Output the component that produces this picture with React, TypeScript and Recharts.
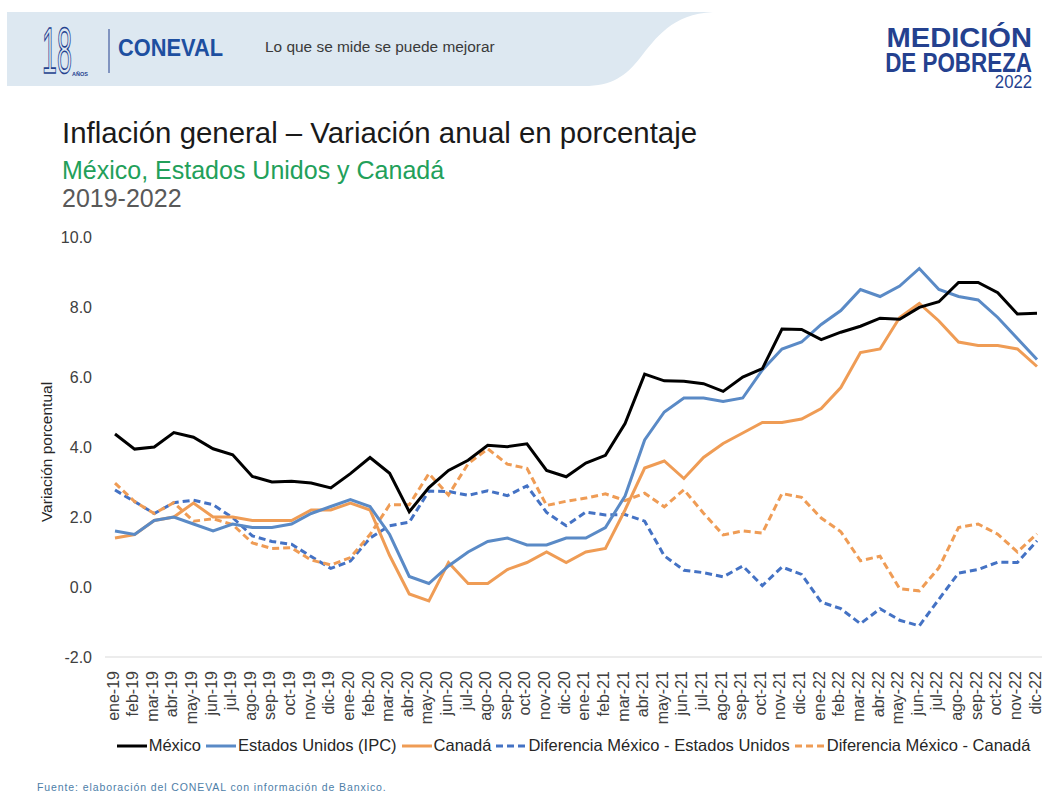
import { LineChart, Line, XAxis, YAxis } from "recharts";

// meses (eje x)
const meses = [
    "ene-19", "feb-19", "mar-19", "abr-19", "may-19", "jun-19", "jul-19", "ago-19", "sep-19", "oct-19", "nov-19", "dic-19",
    "ene-20", "feb-20", "mar-20", "abr-20", "may-20", "jun-20", "jul-20", "ago-20", "sep-20", "oct-20", "nov-20", "dic-20",
    "ene-21", "feb-21", "mar-21", "abr-21", "may-21", "jun-21", "jul-21", "ago-21", "sep-21", "oct-21", "nov-21", "dic-21",
    "ene-22", "feb-22", "mar-22", "abr-22", "may-22", "jun-22", "jul-22", "ago-22", "sep-22", "oct-22", "nov-22", "dic-22",
];

const mexico = [
    4.37, 3.94, 4.00, 4.41, 4.28, 3.95, 3.78, 3.16, 3.00, 3.02, 2.97, 2.83,
    3.24, 3.70, 3.25, 2.15, 2.84, 3.33, 3.62, 4.05, 4.01, 4.09, 3.33, 3.15,
    3.54, 3.76, 4.67, 6.08, 5.89, 5.88, 5.81, 5.59, 6.00, 6.24, 7.37, 7.36,
    7.07, 7.28, 7.45, 7.68, 7.65, 7.99, 8.15, 8.70, 8.70, 8.41, 7.80, 7.82,
];

const estadosUnidos = [
    1.6, 1.5, 1.9, 2.0, 1.8, 1.6, 1.8, 1.7, 1.7, 1.8, 2.1, 2.3,
    2.5, 2.3, 1.5, 0.3, 0.1, 0.6, 1.0, 1.3, 1.4, 1.2, 1.2, 1.4,
    1.4, 1.7, 2.6, 4.2, 5.0, 5.4, 5.4, 5.3, 5.4, 6.2, 6.8, 7.0,
    7.5, 7.9, 8.5, 8.3, 8.6, 9.1, 8.5, 8.3, 8.2, 7.7, 7.1, 6.5,
];

const canada = [
    1.4, 1.5, 1.9, 2.0, 2.4, 2.0, 2.0, 1.9, 1.9, 1.9, 2.2, 2.2,
    2.4, 2.2, 0.9, -0.2, -0.4, 0.7, 0.1, 0.1, 0.5, 0.7, 1.0, 0.7,
    1.0, 1.1, 2.2, 3.4, 3.6, 3.1, 3.7, 4.1, 4.4, 4.7, 4.7, 4.8,
    5.1, 5.7, 6.7, 6.8, 7.7, 8.1, 7.6, 7.0, 6.9, 6.9, 6.8, 6.3,
];

const difEstadosUnidos = [
    2.77, 2.44, 2.10, 2.41, 2.48, 2.35, 1.98, 1.46, 1.30, 1.22, 0.87, 0.53,
    0.74, 1.40, 1.75, 1.85, 2.74, 2.73, 2.62, 2.75, 2.61, 2.89, 2.13, 1.75,
    2.14, 2.06, 2.07, 1.88, 0.89, 0.48, 0.41, 0.29, 0.60, 0.04, 0.57, 0.36,
    -0.43, -0.62, -1.05, -0.62, -0.95, -1.11, -0.35, 0.40, 0.50, 0.71, 0.70, 1.32,
];

const difCanada = [
    2.97, 2.44, 2.10, 2.41, 1.88, 1.95, 1.78, 1.26, 1.10, 1.12, 0.77, 0.63,
    0.84, 1.50, 2.35, 2.35, 3.24, 2.63, 3.52, 3.95, 3.51, 3.39, 2.33, 2.45,
    2.54, 2.66, 2.47, 2.68, 2.29, 2.78, 2.11, 1.49, 1.60, 1.54, 2.67, 2.56,
    1.97, 1.58, 0.75, 0.88, -0.05, -0.11, 0.55, 1.70, 1.80, 1.51, 1.00, 1.52,
];

const yTicks = [-2, 0, 2, 4, 6, 8, 10];

const data = meses.map((mes, i) => ({
    mes,
    mexico: mexico[i],
    eeuu: estadosUnidos[i],
    canada: canada[i],
    difEEUU: difEstadosUnidos[i],
    difCanada: difCanada[i],
}));

type Serie = {
    key: string;
    name: string;
    color: string;
    dash?: string;
};

// orden de la leyenda
const series: Serie[] = [
    { key: "mexico", name: "México", color: "#000000" },
    { key: "eeuu", name: "Estados Unidos (IPC)", color: "#5a8ac6" },
    { key: "canada", name: "Canadá", color: "#ef9c55" },
    { key: "difEEUU", name: "Diferencia México - Estados Unidos", color: "#4472c4", dash: "7 4" },
    { key: "difCanada", name: "Diferencia México - Canadá", color: "#ef9c55", dash: "7 4" },
];

const FONT = '"Liberation Sans", Arial, sans-serif';
const navy = "#24418f";

function MesTick({ x, y, payload }: any) {
    return (
        <g transform={`translate(${x},${y})`}>
            <text
                transform="rotate(-90)"
                x={-6}
                y={-2}
                textAnchor="end"
                dominantBaseline="central"
                fontSize={16}
                fontFamily={FONT}
                fill="#404040"
            >
                {payload.value}
            </text>
        </g>
    );
}

function Header() {
    return (
        <svg width={1042} height={809} style={{ position: "absolute", left: 0, top: 0 }}>
            <path
                d="M7,12 L713,12 C672,14 656,38 640,58 C626,76 612,86 584,86 L7,86 Z"
                fill="#dde8f1"
            />
            <g transform="translate(42,73) scale(0.42,1)">
                <text x={0} y={0} fontSize={64} fontFamily={FONT} fill="none" stroke={navy} strokeWidth={1.2}
                    vectorEffect="non-scaling-stroke">18</text>
            </g>
            <text x={72} y={76} fontSize={5.5} fontWeight="bold" fontFamily={FONT} fill={navy}>AÑOS</text>
            <line x1={109} y1={29} x2={109} y2={73} stroke={navy} strokeWidth={1} />
            <g transform="translate(118,56) scale(0.95,1)">
                <text x={0} y={0} fontSize={23} fontWeight={900} fontFamily={FONT} fill="#1d4fa0">CONEVAL</text>
            </g>
            <g transform="translate(265,52) scale(0.995,1)">
                <text x={0} y={0} fontSize={15.5} fontFamily={FONT} fill="#3a3a3a">Lo que se mide se puede mejorar</text>
            </g>

            <g transform="translate(1032,47) scale(1.04,1)">
                <text x={0} y={0} textAnchor="end" fontSize={28} fontWeight="bold" fontFamily={FONT} fill={navy}>MEDICIÓN</text>
            </g>
            <g transform="translate(1032,72) scale(0.8,1)">
                <text x={0} y={0} textAnchor="end" fontSize={28} fontWeight="bold" fontFamily={FONT} fill={navy}>DE POBREZA</text>
            </g>
            <g transform="translate(1032,88) scale(0.88,1)">
                <text x={0} y={0} textAnchor="end" fontSize={19} fontFamily={FONT} fill={navy}>2022</text>
            </g>

            <text x={62} y={143} fontSize={29.4} fontFamily={FONT} fill="#1a1a1a">
                Inflación general – Variación anual en porcentaje
            </text>
            <text x={62} y={179} fontSize={25} fontFamily={FONT} fill="#22a05a">
                México, Estados Unidos y Canadá
            </text>
            <text x={62} y={207} fontSize={25} fontFamily={FONT} fill="#595959">
                2019-2022
            </text>

            <text x={46} y={452} transform="rotate(-90 46 452)" textAnchor="middle" dominantBaseline="central"
                fontSize={15.5} fontFamily={FONT} fill="#262626">
                Variación porcentual
            </text>

            <text x={37} y={791} fontSize={10.5} fontFamily={FONT} fill="#4d7ea8" letterSpacing={0.9}>
                Fuente: elaboración del CONEVAL con información de Banxico.
            </text>
        </svg>
    );
}

function Leyenda() {
    return (
        <div
            style={{
                position: "absolute",
                left: 105,
                top: 736,
                width: 937,
                display: "flex",
                justifyContent: "center",
                alignItems: "center",
                gap: 5,
                fontFamily: FONT,
                fontSize: 16.5,
                color: "#262626",
                whiteSpace: "nowrap",
            }}
        >
            {series.map((s) => (
                <div key={s.key} style={{ display: "flex", alignItems: "center", gap: 2 }}>
                    <svg width={30} height={6}>
                        <line x1={0} y1={3} x2={30} y2={3} stroke={s.color} strokeWidth={3}
                            strokeDasharray={s.dash ? "7 4" : undefined} />
                    </svg>
                    <span>{s.name}</span>
                </div>
            ))}
        </div>
    );
}

export default function App() {
    const drawOrder = [series[3], series[4], series[2], series[1], series[0]];
    return (
        <div
            style={{
                position: "absolute",
                left: 0,
                top: 0,
                width: 1042,
                height: 809,
                background: "#ffffff",
                overflow: "hidden",
            }}
        >
            <Header />
            <div style={{ position: "absolute", left: 0, top: 0 }}>
                <LineChart width={1042} height={809} data={data} margin={{ top: 237, right: 0, bottom: 0, left: 0 }}>
                    <XAxis
                        dataKey="mes"
                        interval={0}
                        height={152}
                        tick={<MesTick />}
                        tickLine={false}
                        axisLine={{ stroke: "#d9d9d9", strokeWidth: 1 }}
                        padding={{ left: 10, right: 5 }}
                    />
                    <YAxis
                        domain={[-2, 10]}
                        ticks={yTicks}
                        width={105}
                        tickFormatter={(v: number) => v.toFixed(1)}
                        axisLine={false}
                        tickLine={false}
                        tickSize={0}
                        tickMargin={13}
                        tick={{ fontSize: 16, fill: "#404040", fontFamily: FONT }}
                    />
                    {drawOrder.map((s) => (
                        <Line
                            key={s.key}
                            type="linear"
                            dataKey={s.key}
                            name={s.name}
                            stroke={s.color}
                            strokeWidth={3}
                            strokeDasharray={s.dash}
                            dot={false}
                            activeDot={false}
                            isAnimationActive={false}
                        />
                    ))}
                </LineChart>
            </div>
            <Leyenda />
        </div>
    );
}
